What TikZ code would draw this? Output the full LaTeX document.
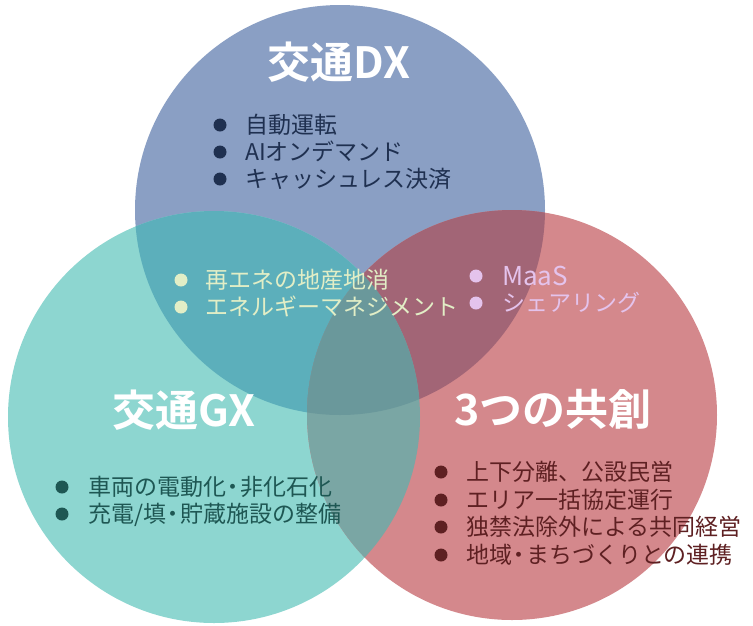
\documentclass[tikz,border=0pt]{standalone}
\usepackage{fontspec}
\setmainfont{Noto Sans CJK JP}[BoldFont={Noto Sans CJK JP Bold}]
\definecolor{cB}{HTML}{8A9FC4}
\definecolor{cT}{HTML}{8DD6D0}
\definecolor{cP}{HTML}{D4888C}
\definecolor{cBT}{HTML}{5CAFBB}
\definecolor{cBP}{HTML}{A26576}
\definecolor{cTP}{HTML}{7AA6A4}
\definecolor{cBTP}{HTML}{6A989B}
\definecolor{tB}{HTML}{1F3050}
\definecolor{tBT}{HTML}{E2EEC6}
\definecolor{tBP}{HTML}{E4C3EC}
\definecolor{tT}{HTML}{1E5753}
\definecolor{tP}{HTML}{5E2022}
\newcommand\nd{\hspace{-0.2em}・\hspace{-0.2em}}
\tikzset{
  bul/.style={circle,fill=#1,minimum size=13pt,inner sep=0pt},
  txt/.style={text=#1,anchor=base west,inner sep=0pt,font=\fontsize{23}{27}\selectfont},
  ttl/.style={text=white,inner sep=0pt,font=\fontsize{43}{48}\selectfont\bfseries}
}
\begin{document}
\begin{tikzpicture}[x=1pt,y=-1pt]
\useasboundingbox (0,0) rectangle (753,625);
\fill[white] (0,0) rectangle (753,625);
% circles
\fill[cB] (340,210) circle[radius=205pt];
\fill[cT] (214,417) circle[radius=206pt];
\fill[cP] (512,415) circle[radius=205pt];
\begin{scope}
  \clip (340,210) circle[radius=205pt];
  \fill[cBT] (214,417) circle[radius=206pt];
\end{scope}
\begin{scope}
  \clip (340,210) circle[radius=205pt];
  \fill[cBP] (512,415) circle[radius=205pt];
\end{scope}
\begin{scope}
  \clip (214,417) circle[radius=206pt];
  \fill[cTP] (512,415) circle[radius=205pt];
\end{scope}
\begin{scope}
  \clip (340,210) circle[radius=205pt];
  \clip (214,417) circle[radius=206pt];
  \fill[cBTP] (512,415) circle[radius=205pt];
\end{scope}
% titles
\node[ttl] (tDX) at (339,62) {交通DX};
\node[ttl] (tGX) at (184,410) {交通GX};
\node[ttl] (tKS) at (553,409) {3つの共創};
% DX list
\node[bul=tB] (b1) at (220,125) {};
\node[txt=tB] (l1) at (245,133.5) {自動運転};
\node[bul=tB] (b2) at (220,152) {};
\node[txt=tB] (l2) at (245,160.5) {AIオンデマンド};
\node[bul=tB] (b3) at (220,179) {};
\node[txt=tB] (l3) at (245,187.5) {キャッシュレス決済};
% DX & GX
\node[bul=tBT] (b4) at (181,280) {};
\node[txt=tBT] (l4) at (205,288.5) {再エネの地産地消};
\node[bul=tBT] (b5) at (181,307) {};
\node[txt=tBT] (l5) at (205,315.5) {エネルギーマネジメント};
% DX & KS
\node[bul=tBP] (b6) at (476,276) {};
\node[txt=tBP, font=\fontsize{26}{30}\selectfont] (l6) at (502,285) {MaaS};
\node[bul=tBP] (b7) at (476,303) {};
\node[txt=tBP] (l7) at (502,311.5) {シェアリング};
% GX list
\node[bul=tT] (b8) at (62,487) {};
\node[txt=tT] (l8) at (88,495.5) {車両の電動化\nd 非化石化};
\node[bul=tT] (b9) at (62,514) {};
\node[txt=tT] (l9) at (88,522.5) {充電/填\nd 貯蔵施設の整備};
% KS list
\node[bul=tP] (b10) at (441,472) {};
\node[txt=tP] (l10) at (466,480.5) {上下分離、公設民営};
\node[bul=tP] (b11) at (441,500) {};
\node[txt=tP] (l11) at (466,508.5) {エリア一括協定運行};
\node[bul=tP] (b12) at (441,527) {};
\node[txt=tP] (l12) at (466,535.5) {独禁法除外による共同経営};
\node[bul=tP] (b13) at (441,555) {};
\node[txt=tP] (l13) at (466,563.5) {地域\nd まちづくりとの連携};
\end{tikzpicture}
\end{document}
